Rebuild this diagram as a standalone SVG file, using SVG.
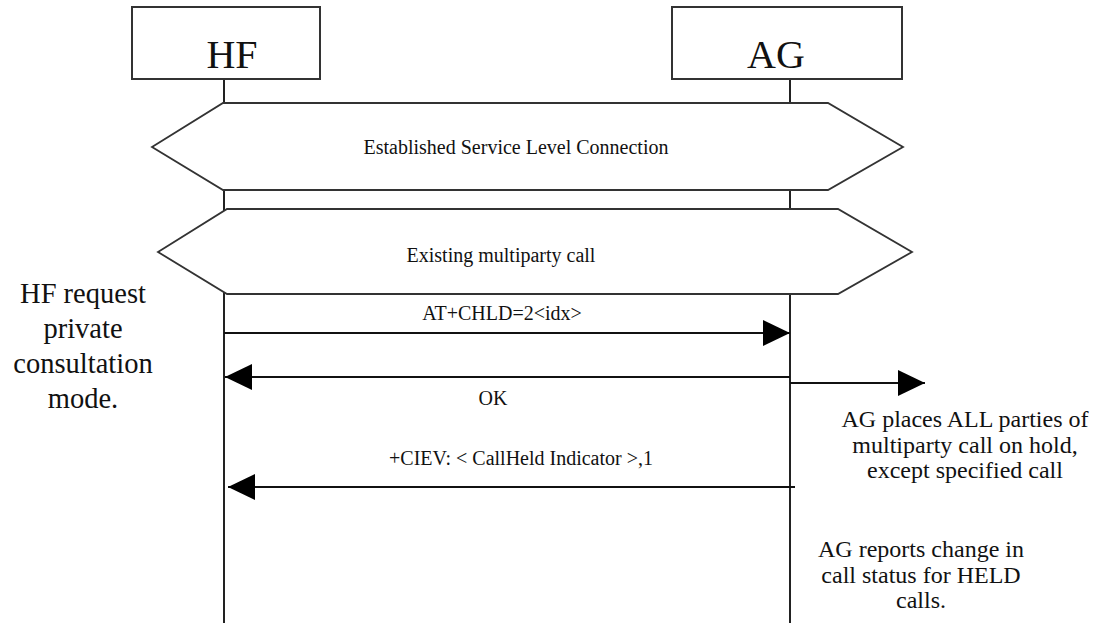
<svg xmlns="http://www.w3.org/2000/svg" width="1095" height="623" viewBox="0 0 1095 623">
<style>
  .box { fill: #fff; stroke: #333; stroke-width: 2; }
  .hex { fill: #fff; stroke: #333; stroke-width: 1.8; }
  .life { stroke: #222; stroke-width: 2; fill: none; }
  .msg { stroke: #111; stroke-width: 2; fill: none; }
  text { font-family: "Liberation Serif", "Times New Roman", serif; fill: #111; }
  .title { font-size: 40px; text-anchor: middle; }
  .lbl { font-size: 20px; text-anchor: middle; }
  .note { font-size: 24px; text-anchor: middle; }
  .note2 { font-size: 28.5px; text-anchor: middle; }
</style>
<defs>
  <marker id="ah" markerWidth="28" markerHeight="28" refX="27" refY="13" orient="auto" markerUnits="userSpaceOnUse">
    <path d="M0,0 L27,13 L0,26 Z" fill="#000"/>
  </marker>
</defs>
<g id="lifelines">
  <line class="life" x1="224" y1="79" x2="224" y2="623"/>
  <line class="life" x1="790" y1="79" x2="790" y2="623"/>
</g>
<g id="HF">
  <rect class="box" x="132" y="7" width="188" height="72"/>
  <text class="title" x="232" y="68">HF</text>
</g>
<g id="AG">
  <rect class="box" x="672" y="7" width="230" height="72"/>
  <text class="title" x="776" y="68">AG</text>
</g>
<g id="slc">
  <polygon class="hex" points="152,147 223,103 828,103 903,147 828,190 223,190"/>
  <text class="lbl" x="516" y="154">Established Service Level Connection</text>
</g>
<g id="multiparty">
  <polygon class="hex" points="158,252 227,209 838,209 912,252 838,294 227,294"/>
  <text class="lbl" x="501" y="262">Existing multiparty call</text>
</g>
<g id="connectors">
  <line class="msg" x1="224" y1="333" x2="790" y2="333" marker-end="url(#ah)"/>
  <line class="msg" x1="790" y1="377" x2="225" y2="377" marker-end="url(#ah)"/>
  <line class="msg" x1="790" y1="383" x2="925" y2="383" marker-end="url(#ah)"/>
  <line class="msg" x1="795" y1="487" x2="228" y2="487" marker-end="url(#ah)"/>
</g>
<g id="labels">
  <text class="lbl" x="502" y="320">AT+CHLD=2&lt;idx&gt;</text>
  <text class="lbl" x="493" y="405">OK</text>
  <text class="lbl" x="521" y="465">+CIEV: &lt; CallHeld Indicator &gt;,1</text>
</g>
<g id="note-hf">
  <text class="note2" x="83" y="303">HF request</text>
  <text class="note2" x="83" y="338">private</text>
  <text class="note2" x="83" y="373">consultation</text>
  <text class="note2" x="83" y="408">mode.</text>
</g>
<g id="note-hold">
  <text class="note" x="965" y="427">AG places ALL parties of</text>
  <text class="note" x="965" y="453">multiparty call on hold,</text>
  <text class="note" x="965" y="478">except specified call</text>
</g>
<g id="note-report">
  <text class="note" x="921" y="557">AG reports change in</text>
  <text class="note" x="921" y="583">call status for HELD</text>
  <text class="note" x="921" y="608">calls.</text>
</g>
</svg>
